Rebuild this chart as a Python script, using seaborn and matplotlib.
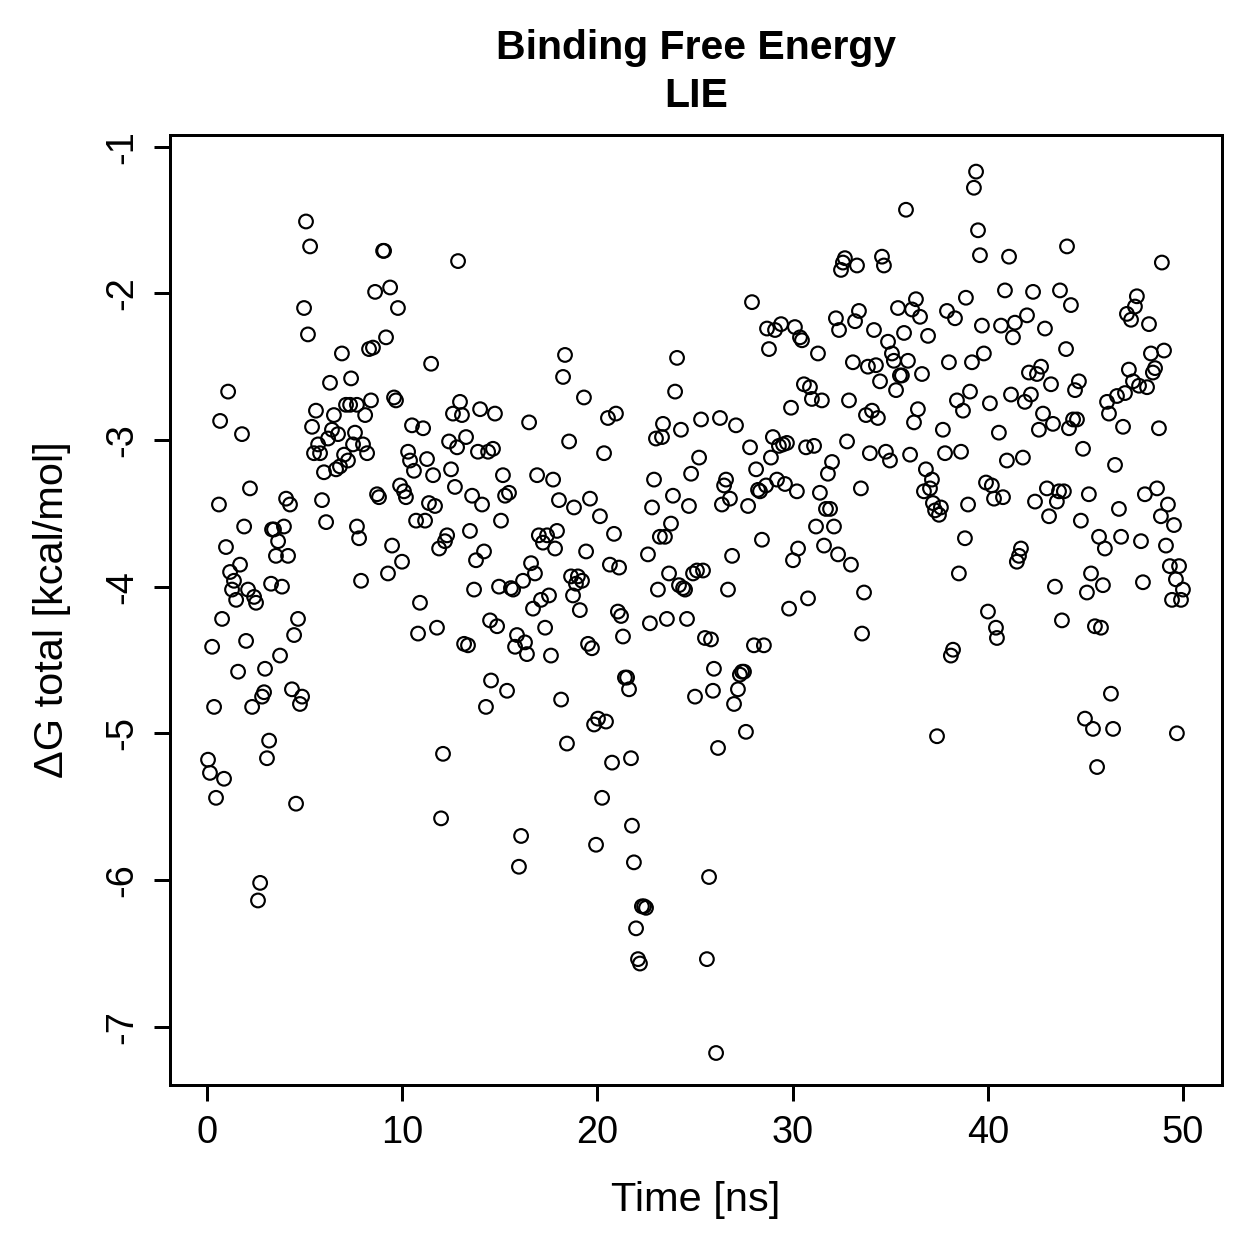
import pandas as pd
import matplotlib
matplotlib.use("Agg")
import matplotlib.pyplot as plt
import seaborn as sns

# values
time_ns = [
    0.05, 0.15, 0.26, 0.36, 0.46, 0.61, 0.67, 0.77, 0.87, 0.97, 1.08, 1.18, 1.28, 1.38, 1.49, 1.59, 1.69, 1.79, 1.90, 2.0,
    2.1, 2.2, 2.31, 2.41, 2.51, 2.61, 2.72, 2.82, 2.92, 2.97, 3.07, 3.18, 3.28, 3.33, 3.43, 3.53, 3.64, 3.74, 3.84, 3.94,
    4.05, 4.15, 4.25, 4.35, 4.46, 4.56, 4.66, 4.76, 4.87,
    4.97, 5.07, 5.17, 5.28, 5.38, 5.48, 5.58, 5.69, 5.79, 5.89, 5.99, 6.1, 6.2, 6.3, 6.4, 6.5, 6.61, 6.71, 6.81, 6.91,
    7.02, 7.12, 7.22, 7.33, 7.38, 7.48, 7.58, 7.68, 7.68, 7.79, 7.89, 7.99, 8.1, 8.2, 8.3, 8.4, 8.5, 8.61, 8.71, 8.81,
    9.02, 9.07, 9.17, 9.27, 9.38, 9.48, 9.58, 9.68, 9.78, 9.89, 9.99,
    10.09, 10.19, 10.3, 10.4, 10.5, 10.6, 10.71, 10.81, 10.91, 11.07, 11.17, 11.27, 11.37, 11.48, 11.58, 11.68, 11.78, 11.89, 11.99,
    12.09, 12.19, 12.3, 12.4, 12.5, 12.6, 12.7, 12.81, 12.86, 12.96, 13.06, 13.17, 13.27, 13.37, 13.47, 13.58, 13.68, 13.78, 13.88, 13.99,
    14.09, 14.19, 14.29, 14.4, 14.5, 14.55, 14.65, 14.75, 14.86, 14.96, 15.06, 15.16, 15.27, 15.37, 15.47, 15.57, 15.68, 15.78, 15.88, 15.98,
    16.09, 16.19, 16.29, 16.39, 16.5, 16.6, 16.7, 16.8, 16.91, 17.0, 17.11, 17.21, 17.32, 17.42, 17.52, 17.62, 17.73, 17.83, 17.93, 18.03,
    18.14, 18.24, 18.34, 18.44, 18.55, 18.65, 18.75, 18.8, 18.9, 19.0, 19.1, 19.21, 19.31, 19.42, 19.52, 19.62, 19.72, 19.83, 19.93, 20.03,
    20.13, 20.24, 20.34, 20.44, 20.54, 20.64, 20.75, 20.85, 20.95, 21.05, 21.11, 21.21, 21.31, 21.41, 21.52, 21.62, 21.72, 21.77, 21.87, 21.98,
    22.08, 22.18, 22.28, 22.39, 22.49, 22.59, 22.69, 22.8, 22.9, 23.0, 23.1, 23.2, 23.31, 23.36, 23.46, 23.56, 23.67, 23.77, 23.87, 23.98,
    24.08, 24.18, 24.28, 24.39, 24.49, 24.59, 24.69, 24.8, 24.9, 25.0, 25.1, 25.21, 25.31, 25.41, 25.51, 25.61, 25.72, 25.82, 25.92, 25.97,
    26.08, 26.18, 26.28, 26.38, 26.49, 26.59, 26.69, 26.79, 26.9, 27.0, 27.1, 27.2, 27.3, 27.41, 27.51, 27.61, 27.72, 27.82, 27.92, 28.02,
    28.13, 28.23, 28.33, 28.43, 28.53, 28.64, 28.69, 28.79, 28.89, 28.99, 29.1, 29.2, 29.3, 29.41, 29.51, 29.61, 29.71, 29.82, 29.92, 30.02,
    30.12, 30.22, 30.28, 30.38, 30.48, 30.58, 30.69, 30.79, 30.89, 30.99, 31.1, 31.2, 31.3, 31.4, 31.5, 31.61, 31.71, 31.81, 31.92, 32.02,
    32.12, 32.22, 32.33, 32.38, 32.48, 32.58, 32.68, 32.79, 32.89, 32.99, 33.09, 33.2, 33.3, 33.4, 33.5, 33.56, 33.66, 33.76, 33.86, 33.96,
    34.07, 34.17, 34.27, 34.37, 34.48, 34.58, 34.68, 34.78, 34.89, 34.99, 35.09, 35.19, 35.3, 35.4, 35.5, 35.6, 35.71, 35.81, 35.91, 36.02,
    36.12, 36.22, 36.32, 36.42, 36.53, 36.63, 36.73, 36.83, 36.94, 37.04, 37.14, 37.19, 37.3, 37.4, 37.5, 37.6, 37.7, 37.81, 37.91, 38.01,
    38.11, 38.22, 38.32, 38.42, 38.52, 38.63, 38.73, 38.83, 38.88, 38.99, 39.09, 39.19, 39.29, 39.4, 39.5, 39.6, 39.7, 39.8, 39.91, 40.01,
    40.11, 40.21, 40.32, 40.42, 40.47, 40.57, 40.68, 40.78, 40.88, 40.98, 41.09, 41.19, 41.29, 41.39, 41.49, 41.6, 41.7, 41.8, 41.9, 42.01,
    42.11, 42.21, 42.32, 42.42, 42.52, 42.62, 42.73, 42.83, 42.93, 43.03, 43.14, 43.24, 43.34, 43.44, 43.54, 43.65, 43.7, 43.8, 43.9, 44.01,
    44.06, 44.16, 44.26, 44.37, 44.47, 44.57, 44.67, 44.77, 44.88, 44.98, 45.08, 45.18, 45.29, 45.39, 45.49, 45.6, 45.7, 45.8, 45.9, 46.0,
    46.11, 46.21, 46.31, 46.42, 46.52, 46.62, 46.72, 46.83, 46.93, 47.03, 47.13, 47.23, 47.34, 47.44, 47.54, 47.64, 47.75, 47.85, 47.95, 48.05,
    48.16, 48.26, 48.36, 48.46, 48.57, 48.67, 48.77, 48.87, 48.92, 49.03, 49.13, 49.23, 49.33, 49.44, 49.54, 49.64, 49.69, 49.8, 49.9, 50.0,
]

dg_total = [
    -5.18, -5.27, -4.41, -4.82, -5.44, -3.44, -2.87, -4.22, -5.31, -3.73, -2.67, -3.90, -4.02, -3.96, -4.09, -4.58, -3.85, -2.96, -3.59, -4.37,
    -4.02, -3.33, -4.82, -4.07, -4.11, -6.14, -6.02, -4.75, -4.72, -4.56, -5.17, -5.05, -3.98, -3.61, -3.61, -3.79, -3.69, -4.47, -4.00, -3.59,
    -3.40, -3.79, -3.44, -4.70, -4.33, -5.48, -4.22, -4.80, -4.75,
    -2.10, -1.51, -2.28, -1.68, -2.91, -3.09, -2.80, -3.03, -3.09, -3.41, -3.22, -3.56, -2.99, -2.61, -2.93, -2.83, -3.20, -2.96, -3.18, -2.41,
    -3.10, -2.76, -3.14, -2.76, -2.58, -3.03, -2.95, -2.76, -3.59, -3.67, -3.96, -3.03, -2.83, -3.09, -2.38, -2.73, -2.37, -1.99, -3.37, -3.39,
    -1.71, -1.71, -2.30, -3.91, -1.96, -3.72, -2.71, -2.73, -2.10, -3.31, -3.83,
    -3.35, -3.39, -3.08, -3.14, -2.90, -3.21, -3.55, -4.32, -4.11, -2.92, -3.55, -3.13, -3.43, -2.48, -3.24, -3.45, -4.28, -3.74, -5.58,
    -5.14, -3.69, -3.65, -3.01, -3.20, -2.82, -3.32, -3.05, -1.78, -2.74, -2.83, -4.39, -2.98, -4.40, -3.62, -3.38, -4.02, -3.82, -3.08, -2.79,
    -3.44, -3.76, -4.82, -3.08, -4.23, -4.64, -3.06, -2.82, -4.27, -4.00, -3.55, -3.24, -3.38, -4.71, -3.36, -4.01, -4.02, -4.41, -4.33, -5.91,
    -5.70, -3.96, -4.38, -4.46, -2.88, -3.84, -4.15, -3.91, -3.24, -3.65, -4.09, -3.70, -4.28, -3.65, -4.06, -4.47, -3.27, -3.74, -3.62, -3.41,
    -4.77, -2.57, -2.42, -5.07, -3.01, -3.93, -4.06, -3.46, -3.98, -3.93, -4.16, -3.96, -2.71, -3.76, -4.39, -3.40, -4.42, -4.94, -5.76, -4.90,
    -3.52, -5.44, -3.09, -4.92, -2.85, -3.85, -5.20, -3.64, -2.82, -4.17, -3.87, -4.20, -4.34, -4.62, -4.62, -4.70, -5.17, -5.63, -5.88, -6.33,
    -6.54, -6.57, -6.18, -6.18, -6.19, -3.78, -4.25, -3.46, -3.27, -2.99, -4.02, -3.66, -2.98, -2.89, -3.66, -4.22, -3.91, -3.57, -3.38, -2.67,
    -2.44, -3.99, -2.93, -4.01, -4.02, -4.22, -3.45, -3.23, -3.91, -4.75, -3.89, -3.12, -2.86, -3.89, -4.35, -6.54, -5.98, -4.36, -4.71, -4.56,
    -7.18, -5.10, -2.85, -3.44, -3.31, -3.27, -4.02, -3.40, -3.79, -4.80, -2.90, -4.70, -4.60, -4.58, -4.58, -4.99, -3.45, -3.05, -2.06, -4.40,
    -3.20, -3.34, -3.35, -3.68, -4.40, -3.31, -2.24, -2.38, -3.12, -2.98, -2.25, -3.27, -3.04, -2.21, -3.03, -3.30, -3.02, -4.15, -2.78, -3.82,
    -2.23, -3.35, -3.74, -2.30, -2.32, -2.62, -3.05, -4.08, -2.64, -2.72, -3.04, -3.59, -2.41, -3.36, -2.73, -3.72, -3.47, -3.23, -3.47, -3.15,
    -3.59, -2.17, -3.78, -2.25, -1.84, -1.79, -1.76, -3.01, -2.73, -3.85, -2.47, -2.19, -1.81, -2.12, -3.33, -4.32, -4.04, -2.83, -2.50, -3.09,
    -2.80, -2.25, -2.49, -2.85, -2.60, -1.75, -1.81, -3.08, -2.33, -3.14, -2.41, -2.46, -2.66, -2.10, -2.56, -2.56, -2.27, -1.43, -2.46, -3.10,
    -2.11, -2.88, -2.04, -2.79, -2.16, -2.55, -3.35, -3.20, -2.29, -3.33, -3.27, -3.43, -3.48, -5.02, -3.51, -3.46, -2.93, -3.09, -2.12, -2.47,
    -4.47, -4.43, -2.17, -2.73, -3.91, -3.08, -2.80, -3.67, -2.03, -3.44, -2.67, -2.47, -1.28, -1.17, -1.57, -1.74, -2.22, -2.41, -3.29, -4.17,
    -2.75, -3.31, -3.40, -4.28, -4.35, -2.95, -2.22, -3.39, -1.98, -3.14, -1.75, -2.69, -2.30, -2.20, -3.83, -3.79, -3.74, -3.12, -2.74, -2.15,
    -2.54, -2.69, -1.99, -3.42, -2.55, -2.93, -2.50, -2.82, -2.24, -3.33, -3.52, -2.62, -2.89, -4.00, -3.42, -3.35, -1.98, -4.23, -3.35, -2.38,
    -1.68, -2.92, -2.08, -2.86, -2.66, -2.86, -2.60, -3.55, -3.06, -4.90, -4.04, -3.37, -3.91, -4.97, -4.27, -5.23, -3.66, -4.28, -3.99, -3.74,
    -2.74, -2.82, -4.73, -4.97, -3.17, -2.70, -3.47, -3.66, -2.91, -2.68, -2.14, -2.52, -2.18, -2.60, -2.09, -2.02, -2.63, -3.69, -3.97, -3.37,
    -2.64, -2.21, -2.41, -2.54, -2.51, -3.33, -2.92, -3.52, -1.79, -2.39, -3.72, -3.44, -3.86, -4.09, -3.58, -3.95, -5.00, -3.86, -4.09, -4.02,
]

df = pd.DataFrame({"time": time_ns, "dg": dg_total})

sns.set_style("ticks")
plt.rcParams["font.family"] = ["Liberation Sans", "DejaVu Sans"]
plt.rcParams["text.color"] = "black"
plt.rcParams["axes.labelcolor"] = "black"

fig = plt.figure(figsize=(1259 / 180, 1259 / 180), dpi=180)
ax = fig.add_axes([0.135, 0.138, 0.8356, 0.7548])

sns.scatterplot(data=df, x="time", y="dg", ax=ax, marker="o", s=30,
                facecolor="none", edgecolor="black", linewidth=0.85)

ax.set_xlim(-1.9, 52.0)
ax.set_ylim(-7.40, -0.92)
ax.set_xticks([0, 10, 20, 30, 40, 50])
ax.set_yticks([-7, -6, -5, -4, -3, -2, -1])
ax.set_yticklabels(["-7", "-6", "-5", "-4", "-3", "-2", "-1"], rotation=90, va="center")

for sp in ax.spines.values():
    sp.set_visible(True)
    sp.set_color("black")
    sp.set_linewidth(1.2)
ax.tick_params(axis="both", direction="out", length=6.5, width=1.2, labelsize=15.2,
               colors="black", pad=5.5)

ax.set_xlabel("Time [ns]", fontsize=16.6, labelpad=12)
ax.set_ylabel("ΔG total [kcal/mol]", fontsize=16.6, labelpad=13)
ax.set_title("Binding Free Energy\nLIE", fontsize=16.4, fontweight="bold", pad=11, linespacing=1.35)

fig.savefig("out.png", dpi=180)
